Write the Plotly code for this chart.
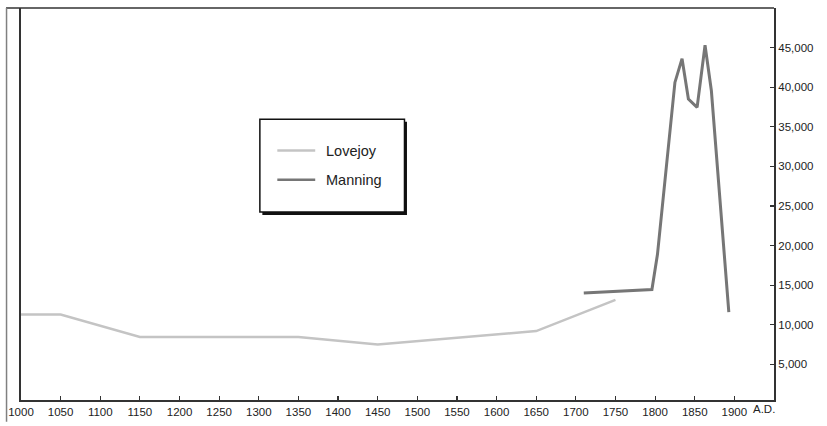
import plotly.graph_objects as go

# ---- data ----
lovejoy_years = [1000, 1050, 1150, 1350, 1450, 1650, 1750]
lovejoy_values = [11300, 11300, 8450, 8450, 7500, 9200, 13150]

manning_years = [1710, 1796, 1803, 1825, 1834, 1842, 1853, 1863, 1871, 1893]
manning_values = [14000, 14450, 18900, 40600, 43600, 38500, 37450, 45300, 39550, 11600]

x_ticks = list(range(1000, 1901, 50))
x_tick_labels = [str(v) for v in x_ticks]
y_ticks = list(range(5000, 45001, 5000))
y_tick_labels = [f"{v:,}" for v in y_ticks]

series_names = ["Lovejoy", "Manning"]
series_colors = ["#c4c4c4", "#767676"]

W, H = 827, 426
L, R, T, B = 19, 774, 8, 404  # plot area in pixels


def px(xp):
    return (xp - L) / (R - L)


def py(yp):
    return (B - yp) / (B - T)


fig = go.Figure()
fig.add_trace(go.Scatter(x=lovejoy_years, y=lovejoy_values, mode="lines",
                         name=series_names[0],
                         line=dict(color=series_colors[0], width=2.5)))
fig.add_trace(go.Scatter(x=manning_years, y=manning_values, mode="lines",
                         name=series_names[1],
                         line=dict(color=series_colors[1], width=3)))

shapes = []
# outer frame: top line and light left border
shapes.append(dict(type="line", xref="paper", yref="paper", x0=px(4), x1=1, y0=1, y1=1,
                   line=dict(color="#333333", width=1.5)))
shapes.append(dict(type="line", xref="paper", yref="paper", x0=px(4.5), x1=px(4.5), y0=1, y1=py(426),
                   line=dict(color="#808080", width=1.5)))
# legend box with drop shadow
shapes.append(dict(type="rect", xref="paper", yref="paper", x0=px(261), x1=px(406), y0=py(123), y1=py(217),
                   line=dict(width=0), fillcolor="#111111"))
shapes.append(dict(type="rect", xref="paper", yref="paper", x0=px(258.5), x1=px(403.5), y0=py(120.5), y1=py(214),
                   line=dict(color="#111111", width=1.5), fillcolor="white"))
legend_y = [152, 181.5]
for name, color, ly in zip(series_names, series_colors, legend_y):
    shapes.append(dict(type="line", xref="paper", yref="paper", x0=px(276), x1=px(314), y0=py(ly), y1=py(ly),
                       line=dict(color=color, width=2.5)))

annotations = []
for name, ly in zip(series_names, legend_y):
    annotations.append(dict(text=name, xref="paper", yref="paper", x=px(323), y=py(ly),
                            xanchor="left", yanchor="middle", showarrow=False,
                            font=dict(family="Liberation Sans, Arial, sans-serif", size=14.5, color="#222222")))
annotations.append(dict(text="A.D.", xref="x", yref="paper", x=1937, y=0, xanchor="center", yanchor="top",
                        yshift=-1, showarrow=False,
                        font=dict(family="Liberation Sans, Arial, sans-serif", size=11.5, color="#222222")))

fig.update_layout(
    width=W, height=H,
    margin=dict(l=L, r=W - R, t=T, b=H - B, pad=0),
    paper_bgcolor="white", plot_bgcolor="white",
    showlegend=False,
    shapes=shapes, annotations=annotations,
    font=dict(family="Liberation Sans, Arial, sans-serif", size=11.5, color="#222222"),
    xaxis=dict(range=[1000, 1950], tickvals=x_ticks, ticktext=x_tick_labels,
               ticks="inside", ticklen=4, tickwidth=1.2, tickcolor="#333333",
               showline=True, linecolor="#333333", linewidth=1.8,
               showgrid=False, zeroline=False, fixedrange=True),
    yaxis=dict(range=[500, 50000], side="right", tickvals=y_ticks, ticktext=y_tick_labels,
               ticks="inside", ticklen=4, tickwidth=1.2, tickcolor="#333333",
               showline=True, linecolor="#333333", linewidth=2, mirror=True,
               showgrid=False, zeroline=False, fixedrange=True),
)

# remove the browser's default 8px page margin so the figure sits at the window origin
fig.write_html("out.html",
               config={"displayModeBar": False, "staticPlot": True},
               post_script="document.body.style.margin='0';document.body.style.overflow='hidden';")
